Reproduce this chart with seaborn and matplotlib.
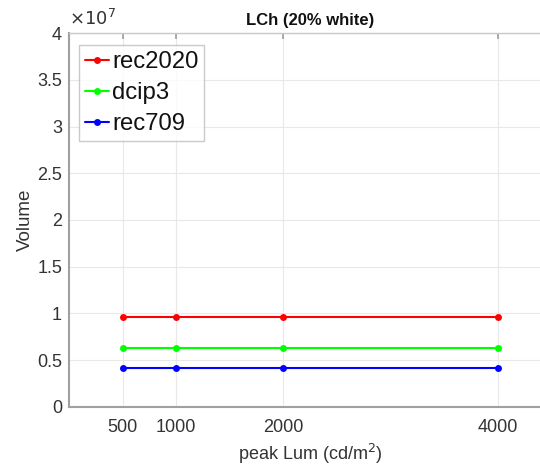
import numpy as np
import pandas as pd
import matplotlib
matplotlib.use("Agg")
import matplotlib.pyplot as plt
import seaborn as sns
from matplotlib.ticker import FuncFormatter

peak_lum = [500, 1000, 2000, 4000]
rec2020 = [0.958e7, 0.958e7, 0.958e7, 0.958e7]
dcip3 = [0.632e7, 0.632e7, 0.632e7, 0.632e7]
rec709 = [0.415e7, 0.415e7, 0.415e7, 0.415e7]
series_names = ["rec2020", "dcip3", "rec709"]
colors = ["#ff0000", "#00ff00", "#0000ff"]
yticks = [0, 0.5e7, 1e7, 1.5e7, 2e7, 2.5e7, 3e7, 3.5e7, 4e7]

df = pd.concat([
    pd.DataFrame({"lum": peak_lum, "vol": v, "gamut": n})
    for n, v in zip(series_names, [rec2020, dcip3, rec709])
])

sns.set_theme(style="white")
plt.rcParams['font.family'] = ['Liberation Sans', 'DejaVu Sans']

fig = plt.figure(figsize=(5.4, 4.65), dpi=100)
ax = fig.add_axes([0.1278, 0.1254, 0.893, 0.803])

sns.lineplot(data=df, x="lum", y="vol", hue="gamut", palette=dict(zip(series_names, colors)),
             hue_order=series_names, marker="o", markersize=5, markeredgewidth=0,
             linewidth=1.5, ax=ax, legend=True)

ax.set_xlim(0, 4500)
ax.set_ylim(0, 4e7)
ax.set_xticks(peak_lum)
ax.set_xticklabels([str(v) for v in peak_lum])
ax.set_yticks(yticks)
ax.yaxis.set_major_formatter(FuncFormatter(lambda v, p: "%g" % (v / 1e7)))
ax.text(0.0, 1.012, r"$\times10^{7}$", transform=ax.transAxes, fontsize=13,
        color="#333333", ha="left", va="bottom")

ax.grid(True, color="#e8e8e8", linewidth=0.8)
ax.set_axisbelow(True)
for s in ["left", "bottom"]:
    ax.spines[s].set_color("#a0a0a0")
    ax.spines[s].set_linewidth(1.5)
ax.spines["top"].set_color("#c8c8c8")
ax.spines["top"].set_linewidth(1.0)
ax.spines["right"].set_visible(False)
ax.tick_params(axis="both", direction="in", length=4, color="#a0a0a0", labelsize=13,
               labelcolor="#333333", top=True)
ax.tick_params(axis="x", pad=9)
ax.tick_params(axis="y", pad=5)

ax.set_xlabel("peak Lum (cd/m$^2$)", fontsize=13, color="#333333", labelpad=4)
ax.set_ylabel("Volume", fontsize=13.5, color="#333333", labelpad=2)
ax.set_title("LCh (20% white)", fontsize=12, fontweight="bold", color="#111111", pad=6)

leg = ax.legend(loc="upper left", fontsize=17.2, frameon=True, handlelength=1.0,
                handletextpad=0.15, borderpad=0.24, borderaxespad=0, labelspacing=0.38,
                fancybox=False, bbox_to_anchor=(0.0207, 0.968))
leg.get_frame().set_edgecolor("#bdbdbd")
leg.get_frame().set_linewidth(1.0)
for t in leg.get_texts():
    t.set_color("#111111")

fig.savefig("out.png", dpi=100)
